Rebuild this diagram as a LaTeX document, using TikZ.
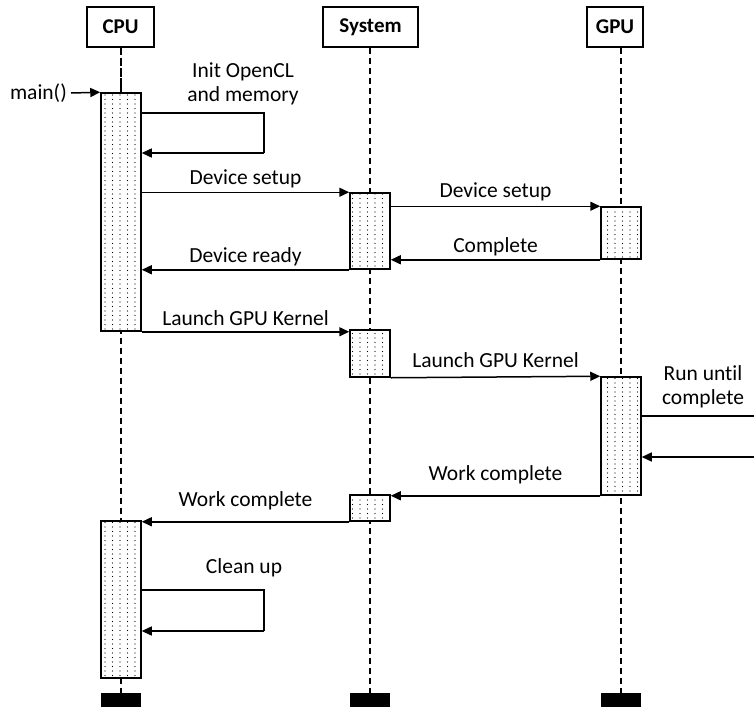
\documentclass[tikz,border=0pt]{standalone}
\usepackage{fontspec}
\setmainfont{Carlito}[Ligatures=NoCommon]
\usetikzlibrary{arrows.meta,patterns}
\pgfdeclarepatternformonly{sparsedots}{\pgfqpoint{-1pt}{-1pt}}{\pgfqpoint{1pt}{1pt}}{\pgfqpoint{7.5pt}{4.5pt}}{\pgfpathcircle{\pgfqpoint{0pt}{0pt}}{0.7pt}\pgfusepath{fill}}
\tikzset{
  head/.style={draw, line width=1.5pt, inner sep=0pt, minimum height=40pt, font=\fontsize{21}{24}\selectfont\bfseries},
  act/.style={draw, line width=1.5pt, inner sep=0pt, minimum width=40pt, preaction={fill=white}, pattern=sparsedots, pattern color=black},
  bar/.style={fill=black, inner sep=0pt, minimum width=40pt, minimum height=14pt},
  life/.style={line width=1.3pt, dash pattern=on 6pt off 4pt},
  msg/.style={line width=1.5pt, -{Triangle[length=10pt,width=9pt]}},
  seg/.style={line width=1.5pt},
  lbl/.style={font=\fontsize{21.5}{24}\selectfont, inner sep=0pt, align=center}
}
\begin{document}
\begin{tikzpicture}[x=1pt,y=-1pt]
\path[use as bounding box, fill=white] (0,0) rectangle (754,707);
% headers
\node[head, minimum width=67pt] (cpu) at (120.5,27) {CPU};
\node[head, minimum width=95pt] (sys) at (370.5,27) {System};
\node[head, minimum width=56pt] (gpu) at (615,27) {GPU};
% bottom bars
\node[bar] (cpubar) at (121,700) {};
\node[bar] (sysbar) at (370,700) {};
\node[bar] (gpubar) at (621,700) {};
% lifelines
\draw[life] (cpu.south -| cpubar.north) -- (cpubar.north);
\draw[life] (sys.south -| sysbar.north) -- (sysbar.north);
\draw[life] (gpu.south -| gpubar.north) -- (gpubar.north);
% activation boxes
\node[act, minimum height=238pt] (c1) at (121,212) {};
\node[act, minimum height=76pt] (s1) at (370,231) {};
\node[act, minimum height=52pt] (g1) at (621,233) {};
\node[act, minimum height=47pt] (s2) at (370,353.5) {};
\node[act, minimum height=118pt] (g2) at (621,436) {};
\node[act, minimum height=26pt] (s3) at (370,508) {};
\node[act, minimum height=157pt] (c2) at (121,599.5) {};
\draw[line width=2.6pt, dash pattern=on 7pt off 4pt] (cpu.south -| cpubar.north) -- (c1.north);
% main()
\node[lbl, anchor=east] (mainlbl) at (67,93) {main()};
\draw[msg] ([xshift=4pt]mainlbl.east) -- (c1.north west);
% init loop
\coordinate (i1) at (264,113);
\coordinate (i2) at (264,153);
\draw[seg] (c1.east |- i1) -- (i1) -- (i2);
\draw[msg] (i2) -- (c1.east |- i2);
\node[lbl] (initlbl) at (243,84) {Init OpenCL\\and memory};
% messages
\draw[msg] (s1.north west -| c1.east) -- (s1.north west) node[lbl, midway, yshift=13pt] {Device setup};
\draw[msg] (g1.north west -| s1.east) -- (g1.north west) node[lbl, midway, yshift=14pt] {Device setup};
\draw[msg] (g1.south west) -- (g1.south west -| s1.east) node[lbl, midway, yshift=13pt] {Complete};
\draw[msg] (s1.south west) -- (s1.south west -| c1.east) node[lbl, midway, yshift=13pt] {Device ready};
\draw[msg] (c1.south east) -- (c1.south east -| s2.west) node[lbl, midway, yshift=14pt] {Launch GPU Kernel};
\draw[msg] (s2.south east) -- (g2.north west) node[lbl, midway, yshift=17pt] {Launch GPU Kernel};
\draw[msg] (g2.south west) -- (g2.south west -| s3.east) node[lbl, midway, yshift=21pt] {Work complete};
\draw[msg] (s3.south west) -- (s3.south west -| c2.east) node[lbl, midway, yshift=21pt] {Work complete};
% run until complete
\coordinate (r1) at (754,416);
\coordinate (r2) at (754,457);
\draw[seg] (g2.east |- r1) -- (r1);
\draw[msg] (r2) -- (g2.east |- r2);
\node[lbl] (runlbl) at (703,387) {Run until\\complete};
% clean up loop
\coordinate (k1) at (264,590);
\coordinate (k2) at (264,631);
\draw[seg] (c2.east |- k1) -- (k1) -- (k2);
\draw[msg] (k2) -- (c2.east |- k2);
\node[lbl] (cleanlbl) at (244,568) {Clean up};
\end{tikzpicture}
\end{document}
